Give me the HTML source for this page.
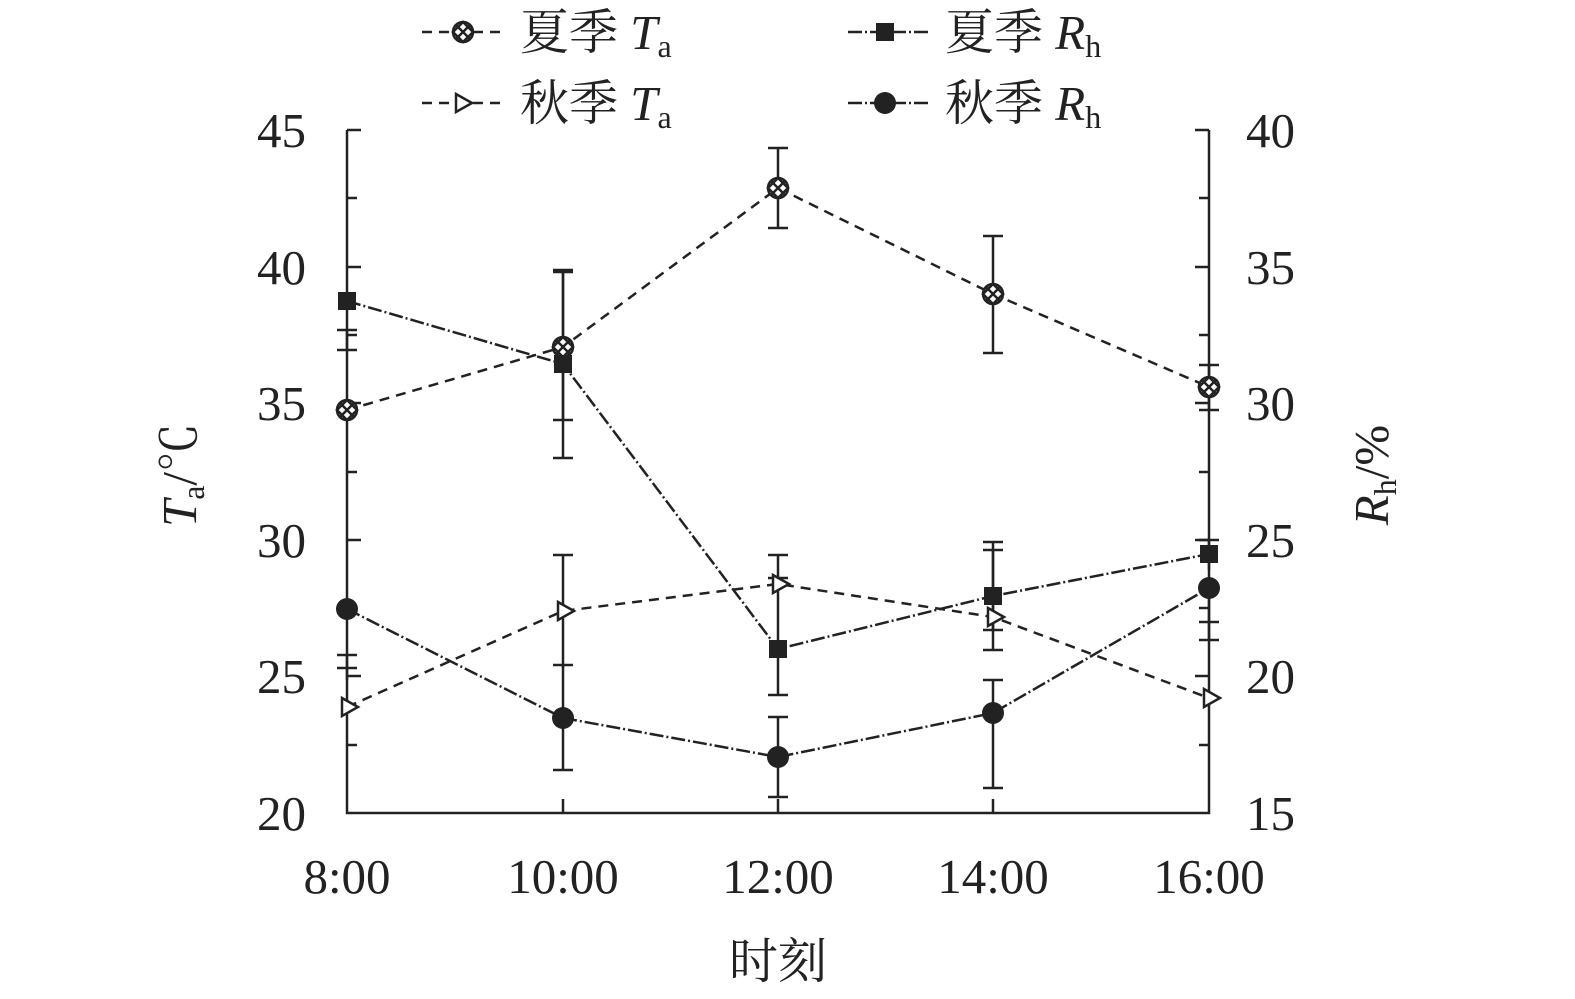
<!DOCTYPE html>
<html><head><meta charset="utf-8"><style>
body{margin:0;background:#fff}
svg text{font-family:"Liberation Serif","Noto Serif CJK SC",serif;fill:#222}
</style></head><body>
<svg width="1575" height="994" viewBox="0 0 1575 994" xmlns="http://www.w3.org/2000/svg">
<defs>
<g id="cx"><circle r="10" fill="#fff" stroke="#222" stroke-width="2.5"/><path d="M-7,-7L7,7M-7,7L7,-7M-10,0L0,-10L10,0L0,10Z" stroke="#222" stroke-width="2.5" fill="none"/></g>
<g id="sq"><rect x="-9" y="-9" width="18" height="18" fill="#222"/></g>
<g id="tr"><path d="M-7,-9L9,0L-7,9Z" fill="#fff" stroke="#222" stroke-width="2.5"/></g>
<g id="ci"><circle r="11" fill="#222"/></g>
</defs>
<g stroke="#222" stroke-width="2.5" fill="none">
<path d="M347,130V813H1209V130"/>
<path d="M347,130h14M347,198h10M347,267h14M347,335h10M347,403h14M347,472h10M347,540h14M347,608h10M347,676h14M347,745h10"/>
<path d="M1209,130h-14M1209,198h-10M1209,267h-14M1209,335h-10M1209,403h-14M1209,472h-10M1209,540h-14M1209,608h-10M1209,676h-14M1209,745h-10"/>
<path d="M563,813v-14M778,813v-14M993,813v-14"/>
</g>
<g stroke="#222" stroke-width="2.5">
<path d="M563,270V420M553,270h20M553,420h20"/>
<path d="M778,148V228M768,148h20M768,228h20"/>
<path d="M993,236V353M983,236h20M983,353h20"/>
<path d="M1209,365V410M1199,365h20M1199,410h20"/>
<path d="M347,330V350M337,330h20M337,350h20"/>
<path d="M563,272V458M553,272h20M553,458h20"/>
<path d="M778,555V695M768,555h20M768,695h20"/>
<path d="M993,542V650M983,542h20M983,650h20"/>
<path d="M1209,540V570M1199,540h20"/>
<path d="M563,665V770M553,665h20M553,770h20"/>
<path d="M778,717V797M768,717h20M768,797h20"/>
<path d="M993,680V788M983,680h20M983,788h20"/>
<path d="M1209,588V640M1199,622h20M1199,640h20"/>
<path d="M347,655V680M337,655h20M337,668h20"/>
<path d="M563,555V668M553,555h20"/>
<path d="M778,578V590M768,578h20"/>
<path d="M993,550V630M983,550h20M983,630h20"/>
</g>
<g fill="none" stroke="#222" stroke-width="2.5">
<polyline stroke-dasharray="10,7" points="347,410 563,347 778,188 993,294 1209,387"/>
<polyline stroke-dasharray="10,7" points="347,707 563,611 778,584 993,617 1209,698"/>
<polyline stroke-dasharray="14,3,2,3" points="347,301 563,364 778,649 993,596 1209,554"/>
<polyline stroke-dasharray="14,3,2,3" points="347,609 563,718 778,757 993,713 1209,588"/>
</g>
<g>
<use href="#cx" x="347" y="410"/><use href="#cx" x="563" y="347"/><use href="#cx" x="778" y="188"/><use href="#cx" x="993" y="294"/><use href="#cx" x="1209" y="387"/>
<use href="#tr" x="349" y="707"/><use href="#tr" x="565" y="611"/><use href="#tr" x="780" y="584"/><use href="#tr" x="995" y="617"/><use href="#tr" x="1211" y="698"/>
<use href="#sq" x="347" y="301"/><use href="#sq" x="563" y="364"/><use href="#sq" x="778" y="649"/><use href="#sq" x="993" y="596"/><use href="#sq" x="1209" y="554"/>
<use href="#ci" x="347" y="609"/><use href="#ci" x="563" y="718"/><use href="#ci" x="778" y="757"/><use href="#ci" x="993" y="713"/><use href="#ci" x="1209" y="588"/>
</g>
<g font-size="49" text-anchor="end">
<text x="306" y="147">45</text><text x="306" y="284">40</text><text x="306" y="420">35</text><text x="306" y="557">30</text><text x="306" y="693">25</text><text x="306" y="830">20</text>
</g>
<g font-size="49" text-anchor="start">
<text x="1246" y="147">40</text><text x="1246" y="284">35</text><text x="1246" y="420">30</text><text x="1246" y="557">25</text><text x="1246" y="693">20</text><text x="1246" y="830">15</text>
</g>
<g font-size="49" text-anchor="middle">
<text x="347" y="893">8:00</text><text x="563" y="893">10:00</text><text x="778" y="893">12:00</text><text x="993" y="893">14:00</text><text x="1209" y="893">16:00</text>
<text x="778" y="978">时刻</text>
</g>
<text font-size="49" transform="translate(196,475) rotate(-90)" text-anchor="middle"><tspan font-style="italic">T</tspan><tspan font-size="32" dy="8">a</tspan><tspan dy="-8">/℃</tspan></text>
<text font-size="49" transform="translate(1388,475) rotate(-90)" text-anchor="middle"><tspan font-style="italic">R</tspan><tspan font-size="32" dy="8">h</tspan><tspan dy="-8">/%</tspan></text>
<g fill="none" stroke="#222" stroke-width="2.5">
<path d="M422,32H505" stroke-dasharray="10,7"/>
<path d="M422,103H505" stroke-dasharray="10,7"/>
<path d="M848,32H930" stroke-dasharray="14,3,2,3"/>
<path d="M848,103H930" stroke-dasharray="14,3,2,3"/>
</g>
<use href="#cx" x="463" y="32"/><use href="#tr" x="463" y="103"/><use href="#sq" x="885" y="32"/><use href="#ci" x="885" y="103"/>
<g font-size="49">
<text x="520" y="49">夏季 <tspan font-style="italic">T</tspan><tspan font-size="32" dy="8">a</tspan></text>
<text x="520" y="120">秋季 <tspan font-style="italic">T</tspan><tspan font-size="32" dy="8">a</tspan></text>
<text x="945" y="49">夏季 <tspan font-style="italic">R</tspan><tspan font-size="32" dy="8">h</tspan></text>
<text x="945" y="120">秋季 <tspan font-style="italic">R</tspan><tspan font-size="32" dy="8">h</tspan></text>
</g>
</svg>
</body></html>
